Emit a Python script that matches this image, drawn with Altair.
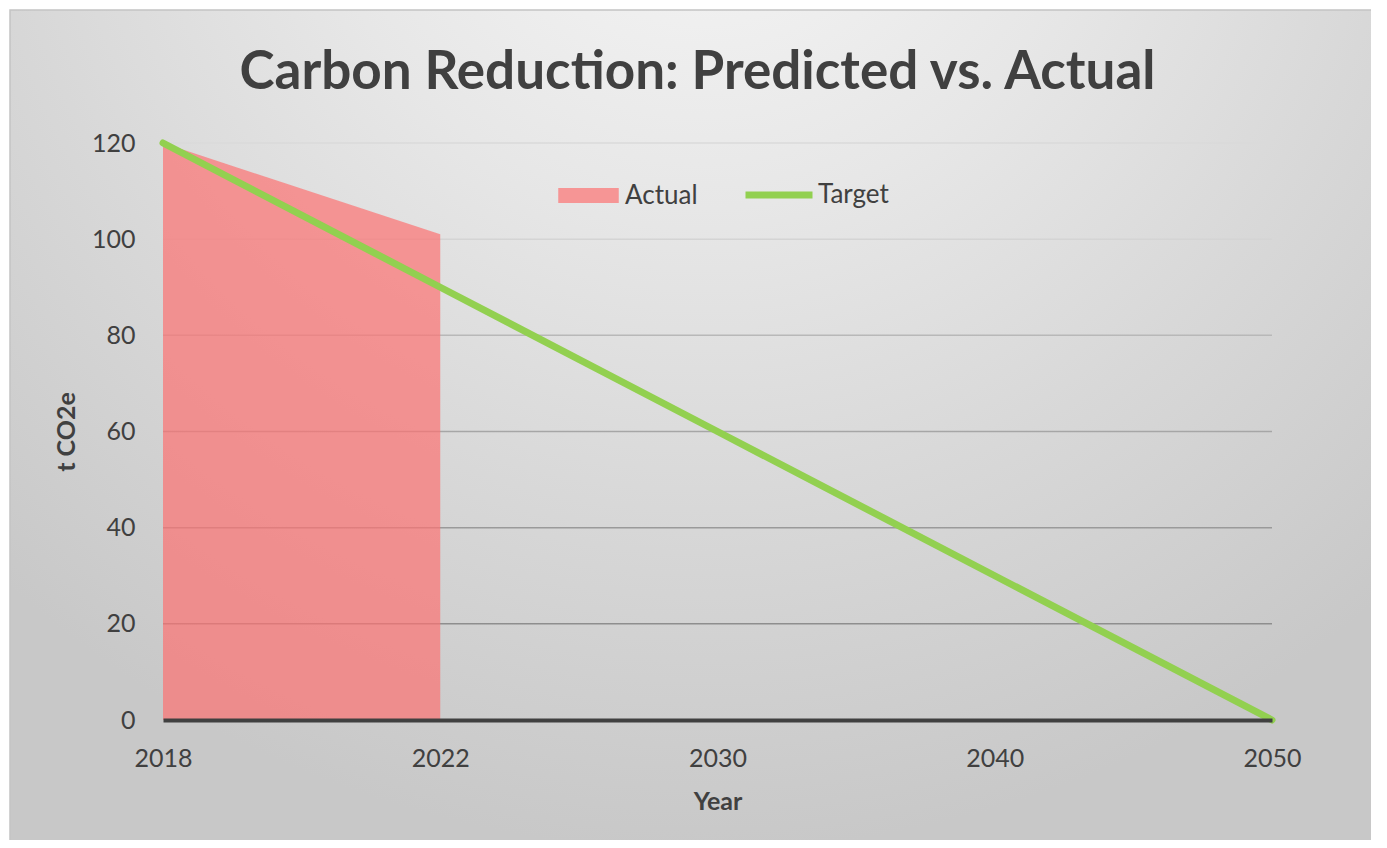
import altair as alt
import pandas as pd

# ---- data ----
title_text = "Carbon Reduction: Predicted vs. Actual"
years = ["2018", "2022", "2030", "2040", "2050"]
actual_years = ["2018", "2022"]
actual_values = [120, 101]
target_years = ["2018", "2022", "2030", "2040", "2050"]
target_values = [120, 90, 60, 30, 0]
y_ticks = [0, 20, 40, 60, 80, 100, 120]
grid_values = [20, 40, 60, 80, 100, 120]
grid_colors = ["#8e8e8e", "#9a9a9a", "#a6a6a6", "#b8b8b8", "#d4d4d4", "#dadada"]

actual_df = pd.DataFrame({"Year": actual_years, "value": actual_values, "series": ["Actual"] * len(actual_years)})
target_df = pd.DataFrame({"Year": target_years, "value": target_values, "series": ["Target"] * len(target_years)})
grid_df = pd.DataFrame({"value": grid_values})

FONT = "Lato"
TXT = "#404040"
W, H = 1109, 577

x_scale = alt.Scale(type="point", padding=0, domain=years)
y_scale = alt.Scale(domain=[0, 120])

bg = alt.Chart(alt.Data(values=[{"a": 1}])).mark_rect(
    fill={
        "gradient": "radial",
        "x1": 0.5, "y1": 0.05, "r1": 0,
        "x2": 0.5, "y2": 0.05, "r2": 0.75,
        "stops": [
            {"offset": 0, "color": "#f8f8f8"},
            {"offset": 0.38, "color": "#e7e7e7"},
            {"offset": 0.67, "color": "#d8d8d8"},
            {"offset": 1, "color": "#c8c8c8"},
        ],
    },
    stroke="#c4c4c4",
    strokeWidth=1.5,
).encode(
    x=alt.value(-153), x2=alt.value(1230), y=alt.value(-133), y2=alt.value(720)
)

title = alt.Chart(alt.Data(values=[{"t": title_text}])).mark_text(
    font=FONT, fontSize=53, fontWeight="bold", color=TXT, align="center", baseline="alphabetic"
).encode(
    text="t:N", x=alt.value(534.5), y=alt.value(-54)
)

grid = alt.Chart(grid_df).mark_rule(strokeWidth=1.5).encode(
    y=alt.Y("value:Q", scale=y_scale),
    stroke=alt.Stroke("value:O", scale=alt.Scale(domain=grid_values, range=grid_colors), legend=None),
)

area = alt.Chart(actual_df).mark_area(fillOpacity=0.7).encode(
    x=alt.X("Year:O", scale=x_scale, sort=years,
            axis=alt.Axis(title="Year", labelAngle=0, ticks=False, tickSize=0, domainColor=TXT,
                          domainWidth=4, labelPadding=26, titlePadding=18, zindex=1, grid=False)),
    y=alt.Y("value:Q", scale=y_scale,
            axis=alt.Axis(title="t CO2e", values=y_ticks, ticks=False, tickSize=0, domain=False,
                          grid=False, labelPadding=28, titlePadding=12, zindex=1)),
    fill=alt.Fill("series:N", scale=alt.Scale(domain=["Actual"], range=["#fc7272"]),
                  legend=alt.Legend(title=None, orient="none", legendX=395, legendY=22,
                                    symbolType="M-1,-0.25H1V0.25H-1Z", symbolSize=3660,
                                    symbolOpacity=0.7, symbolStrokeWidth=0, labelOffset=6)),
)

line = alt.Chart(target_df).mark_line(strokeWidth=7, strokeCap="round").encode(
    x=alt.X("Year:O", scale=x_scale, sort=years),
    y=alt.Y("value:Q", scale=y_scale),
    stroke=alt.Stroke("series:N", scale=alt.Scale(domain=["Target"], range=["#92d050"]),
                      legend=alt.Legend(title=None, orient="none", legendX=579, legendY=15,
                                        symbolType="stroke", symbolSize=4489, symbolStrokeWidth=7,
                                        labelOffset=2)),
)

chart = alt.layer(bg, title, grid, area, line).resolve_scale(fill="independent", stroke="independent").properties(
    width=W,
    height=H,
    padding={"left": 155, "top": 135, "right": 99, "bottom": 120},
    autosize=alt.AutoSizeParams(type="none"),
).configure_axis(
    labelFont=FONT, labelFontSize=25, labelColor=TXT,
    titleFont=FONT, titleFontSize=25, titleColor=TXT, titleFontWeight="bold",
).configure_legend(
    labelFont=FONT, labelFontSize=26, labelColor=TXT,
).configure_view(stroke=None)

chart.save("out.html", embed_options={"renderer": "svg", "actions": False})
